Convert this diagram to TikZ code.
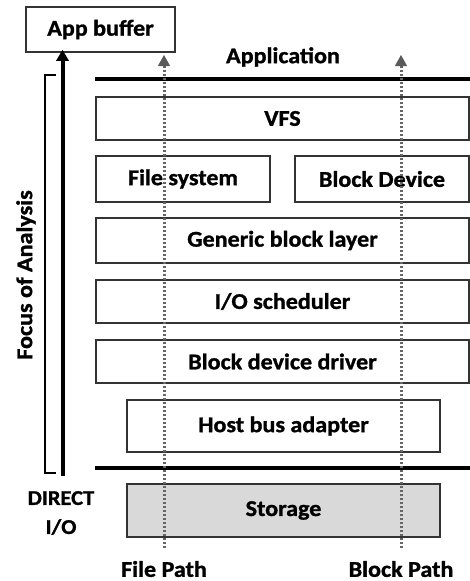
\documentclass[tikz,border=0pt]{standalone}
\usepackage{fontspec}
\setmainfont{Carlito}[FakeStretch=1.07,FakeBold=1.2]
\usetikzlibrary{arrows.meta}
\definecolor{boxline}{HTML}{333333}
\definecolor{dotgray}{HTML}{666666}
\definecolor{headgray}{HTML}{5A5A5A}
\definecolor{storfill}{HTML}{D9D9D9}
\begin{document}
\begin{tikzpicture}[x=1pt,y=-1pt,
  lbl/.style={font=\fontsize{22.5}{26}\selectfont\bfseries, text=black, inner sep=0pt},
  layer/.style={draw=boxline, line width=1.5pt, fill=white, inner sep=0pt,
    font=\fontsize{22.5}{26}\selectfont\bfseries, text=black},
  thickline/.style={line width=4pt, black},
  pathline/.style={dotgray, line width=3pt, dash pattern=on 2.4pt off 1.6pt},
  pathhead/.style={-{Triangle[width=12pt,length=11pt,fill=headgray,color=headgray]}, headgray, line width=1pt},
  bracket/.style={line width=2.4pt, black}
]
\useasboundingbox (0,0) rectangle (470,581);

% app buffer
\node[layer, minimum width=149pt, minimum height=45pt] (appbuf) at (100.5,29.5) {App buffer};
\node[lbl] (applbl) at (283,57) {Application};

% separator lines
\coordinate (tl1) at (95,79);
\coordinate (tl2) at (470,79);
\draw[thickline] (tl1) -- (tl2);
\coordinate (bl1) at (95,468);
\coordinate (bl2) at (470,468);
\draw[thickline] (bl1) -- (bl2);

% layers
\node[layer, minimum width=373pt, minimum height=43pt] (vfs) at (282.5,118.5) {VFS};
\node[layer, minimum width=174pt, minimum height=46pt] (fs) at (183,179) {File system};
\node[layer, minimum width=174pt, minimum height=46pt] (bd) at (382,179) {Block Device};
\node[layer, minimum width=373pt, minimum height=45pt] (gbl) at (282.5,240.5) {Generic block layer};
\node[layer, minimum width=373pt, minimum height=43pt] (ios) at (282.5,301.5) {I/O scheduler};
\node[layer, minimum width=373pt, minimum height=43pt] (bdd) at (282.5,361.5) {Block device driver};
\node[layer, minimum width=313pt, minimum height=52pt] (hba) at (283.5,426) {Host bus adapter};
\node[layer, fill=storfill, minimum width=313pt, minimum height=53pt] (stor) at (283.5,510.5) {Storage};

% dotted paths
\coordinate (fp0) at (164,548);
\coordinate (fph) at (164,66);
\coordinate (fp1) at (164,55);
\coordinate (bp0) at (401,548);
\coordinate (bph) at (401,66);
\coordinate (bp1) at (401,55);
\draw[pathline] (fp0) -- (fph);
\draw[pathline] (bp0) -- (bph);
\draw[pathhead] (fph) -- (fp1);
\draw[pathhead] (bph) -- (bp1);
\node[lbl] (fplbl) at (164,569) {File Path};
\node[lbl] (bplbl) at (401,569) {Block Path};

% direct I/O arrow
\node[lbl, align=center, font=\fontsize{21}{29}\selectfont\bfseries] (direct) at (61,513) {DIRECT\\I/O};
\coordinate (da0) at (62.5,476);
\draw[line width=4pt, -{Triangle[width=12pt,length=11pt]}] (da0) -- (da0 |- appbuf.south) [shorten >=-3pt];

% bracket
\coordinate (br1) at (56,75);
\coordinate (br2) at (45,75);
\coordinate (br3) at (45,473);
\coordinate (br4) at (56,473);
\draw[bracket] (br1) -- (br2) -- (br3) -- (br4);
\node[lbl, rotate=90] (focus) at (26,275) {Focus of Analysis};
\end{tikzpicture}
\end{document}
